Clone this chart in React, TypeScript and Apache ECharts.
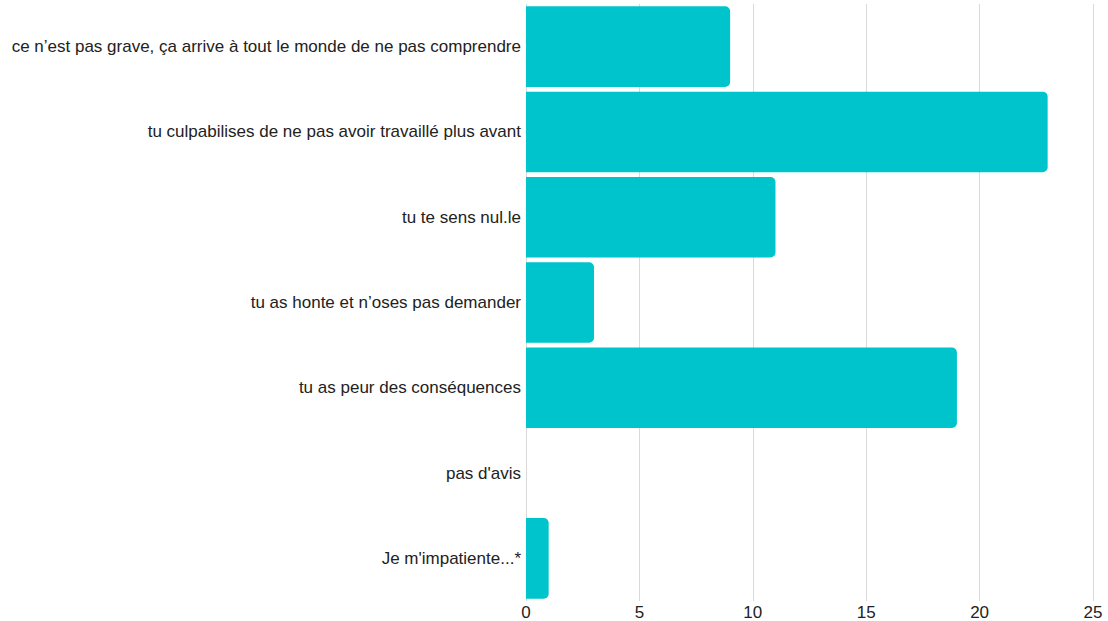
import React, { useEffect, useRef } from "react";
import * as echarts from "echarts";

const categories = [
  "ce n’est pas grave, ça arrive à tout le monde de ne pas comprendre",
  "tu culpabilises de ne pas avoir travaillé plus avant",
  "tu te sens nul.le",
  "tu as honte et n’oses pas demander",
  "tu as peur des conséquences",
  "pas d'avis",
  "Je m'impatiente...*",
];
const values = [9, 23, 11, 3, 19, 0, 1];
const axisMin = 0;
const axisMax = 25;
const axisStep = 5;

export default function App() {
  const ref = useRef<HTMLDivElement>(null);
  useEffect(() => {
    if (!ref.current) return;
    const chart = echarts.init(ref.current, undefined, { renderer: "svg" });
    chart.setOption({
      animation: false,
      grid: { left: 526, right: 15, top: 4, bottom: 17, containLabel: false },
      xAxis: {
        type: "value",
        min: axisMin,
        max: axisMax,
        interval: axisStep,
        axisLine: { show: false },
        axisTick: { show: false },
        splitLine: { show: true, lineStyle: { color: "#d9d9d9", width: 1 } },
        axisLabel: {
          color: "#222",
          fontSize: 17,
          fontFamily: "Liberation Sans, Arial, sans-serif",
          margin: 3,
        },
      },
      yAxis: {
        type: "category",
        data: categories,
        inverse: true,
        axisLine: { show: false },
        axisTick: { show: false },
        splitLine: { show: false },
        axisLabel: {
          color: "#222",
          fontSize: 17,
          fontFamily: "Liberation Sans, Arial, sans-serif",
          margin: 5,
        },
      },
      series: [
        {
          type: "bar",
          data: values,
          barCategoryGap: "5.5%",
          itemStyle: { color: "#00C4CC", borderRadius: [0, 5, 5, 0] },
        },
      ],
    });
    return () => chart.dispose();
  }, []);
  return (
    <div
      ref={ref}
      style={{ position: "absolute", left: 0, top: 0, width: 1108, height: 621 }}
    />
  );
}
